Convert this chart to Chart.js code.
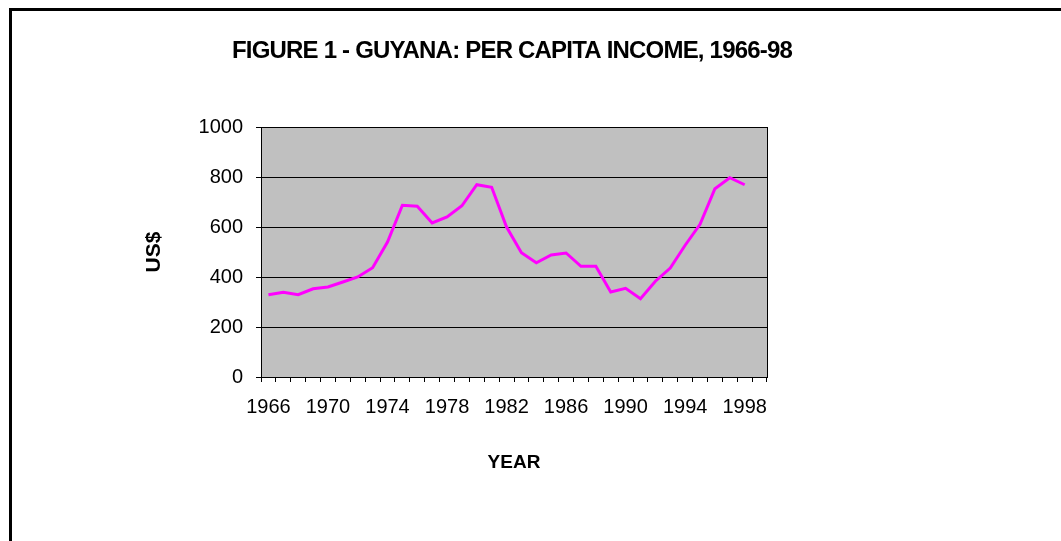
<!DOCTYPE html>
<html>
<head>
<meta charset="utf-8">
<script src="https://cdn.jsdelivr.net/npm/chart.js@4/dist/chart.umd.min.js"></script>
<style>
    body { margin: 0; background: #fff; }
    #chart { display: block; }
</style>
</head>
<body>
<canvas id="chart" width="1061" height="541"></canvas>
<script>
// per capita income, US$
const years = [1966, 1967, 1968, 1969, 1970, 1971, 1972, 1973, 1974, 1975, 1976,
    1977, 1978, 1979, 1980, 1981, 1982, 1983, 1984, 1985, 1986, 1987,
    1988, 1989, 1990, 1991, 1992, 1993, 1994, 1995, 1996, 1997, 1998];
const income = [329, 339, 329, 353, 360, 380, 400, 437, 540, 687, 683,
    616, 640, 685, 769, 759, 600, 497, 457, 488, 496, 443,
    443, 340, 355, 313, 383, 436, 527, 611, 753, 797, 769];
const yTicks = [0, 200, 400, 600, 800, 1000];
// the excel axis keeps one empty slot after the last year
const labels = [...years.map(String), ''];
const TITLE = 'FIGURE 1 - GUYANA: PER CAPITA INCOME, 1966-98';

const FONT = "'Liberation Sans', Arial, sans-serif";

const plotBox = {
    id: 'plotBox',
    beforeDraw(chart) {
        const { ctx, chartArea: a } = chart;
        ctx.save();
        ctx.fillStyle = '#c0c0c0';
        ctx.fillRect(a.left, a.top, a.right - a.left, a.bottom - a.top);
        ctx.restore();
    },
    afterDraw(chart) {
        const { ctx, chartArea: a } = chart;
        ctx.save();
        ctx.strokeStyle = '#000';
        ctx.lineWidth = 1;
        ctx.strokeRect(a.left + 0.5, a.top + 0.5, a.right - a.left, a.bottom - a.top);
        // outer frame of the figure
        ctx.lineWidth = 3;
        ctx.strokeRect(10.5, 9.5, 1100, 600);
        // title sits a bit left of the canvas centre, so draw it here
        ctx.fillStyle = '#000';
        ctx.font = 'bold 24px ' + FONT;
        ctx.letterSpacing = '-0.8px';
        ctx.textAlign = 'center';
        ctx.textBaseline = 'middle';
        ctx.fillText(TITLE, 512, 51);
        ctx.restore();
    }
};

Chart.defaults.color = '#000';
Chart.defaults.font.family = FONT;

new Chart(document.getElementById('chart'), {
    type: 'line',
    data: {
        labels: labels,
        datasets: [{
            label: 'Per capita income',
            data: income,
            borderColor: '#ff00ff',
            borderWidth: 3,
            pointRadius: 0,
            tension: 0,
            fill: false
        }]
    },
    options: {
        responsive: false,
        animation: false,
        layout: { padding: { left: 0, right: 294, top: 127, bottom: 0 } },
        plugins: {
            legend: { display: false },
            tooltip: { enabled: false },
            title: { display: false }
        },
        scales: {
            x: {
                offset: true,
                grid: {
                    offset: true,
                    drawOnChartArea: false,
                    drawTicks: true,
                    tickLength: 5,
                    tickColor: '#000'
                },
                border: { color: '#000' },
                ticks: {
                    autoSkip: false,
                    maxRotation: 0,
                    padding: 13,
                    font: { size: 20 },
                    callback: (v, i) => (i % 4 === 0 ? labels[i] : '')
                },
                title: {
                    display: true,
                    text: 'YEAR',
                    font: { size: 19, weight: 'bold', lineHeight: 1.2 },
                    padding: { top: 0, bottom: 67 }
                },
                afterFit: s => { s.height = 164; }
            },
            y: {
                min: 0,
                max: 1000,
                afterBuildTicks: s => { s.ticks = yTicks.map(v => ({ value: v })); },
                grid: {
                    color: '#000',
                    tickLength: 5,
                    tickColor: '#000'
                },
                border: { color: '#000' },
                ticks: {
                    padding: 13,
                    font: { size: 20 },
                    callback: v => String(v)
                },
                title: {
                    display: true,
                    text: 'US$',
                    font: { size: 21, weight: 'bold', lineHeight: 1.2 },
                    padding: { top: 142, bottom: 0 }
                },
                afterFit: s => { s.width = 261; }
            }
        }
    },
    plugins: [plotBox]
});
</script>
</body>
</html>
